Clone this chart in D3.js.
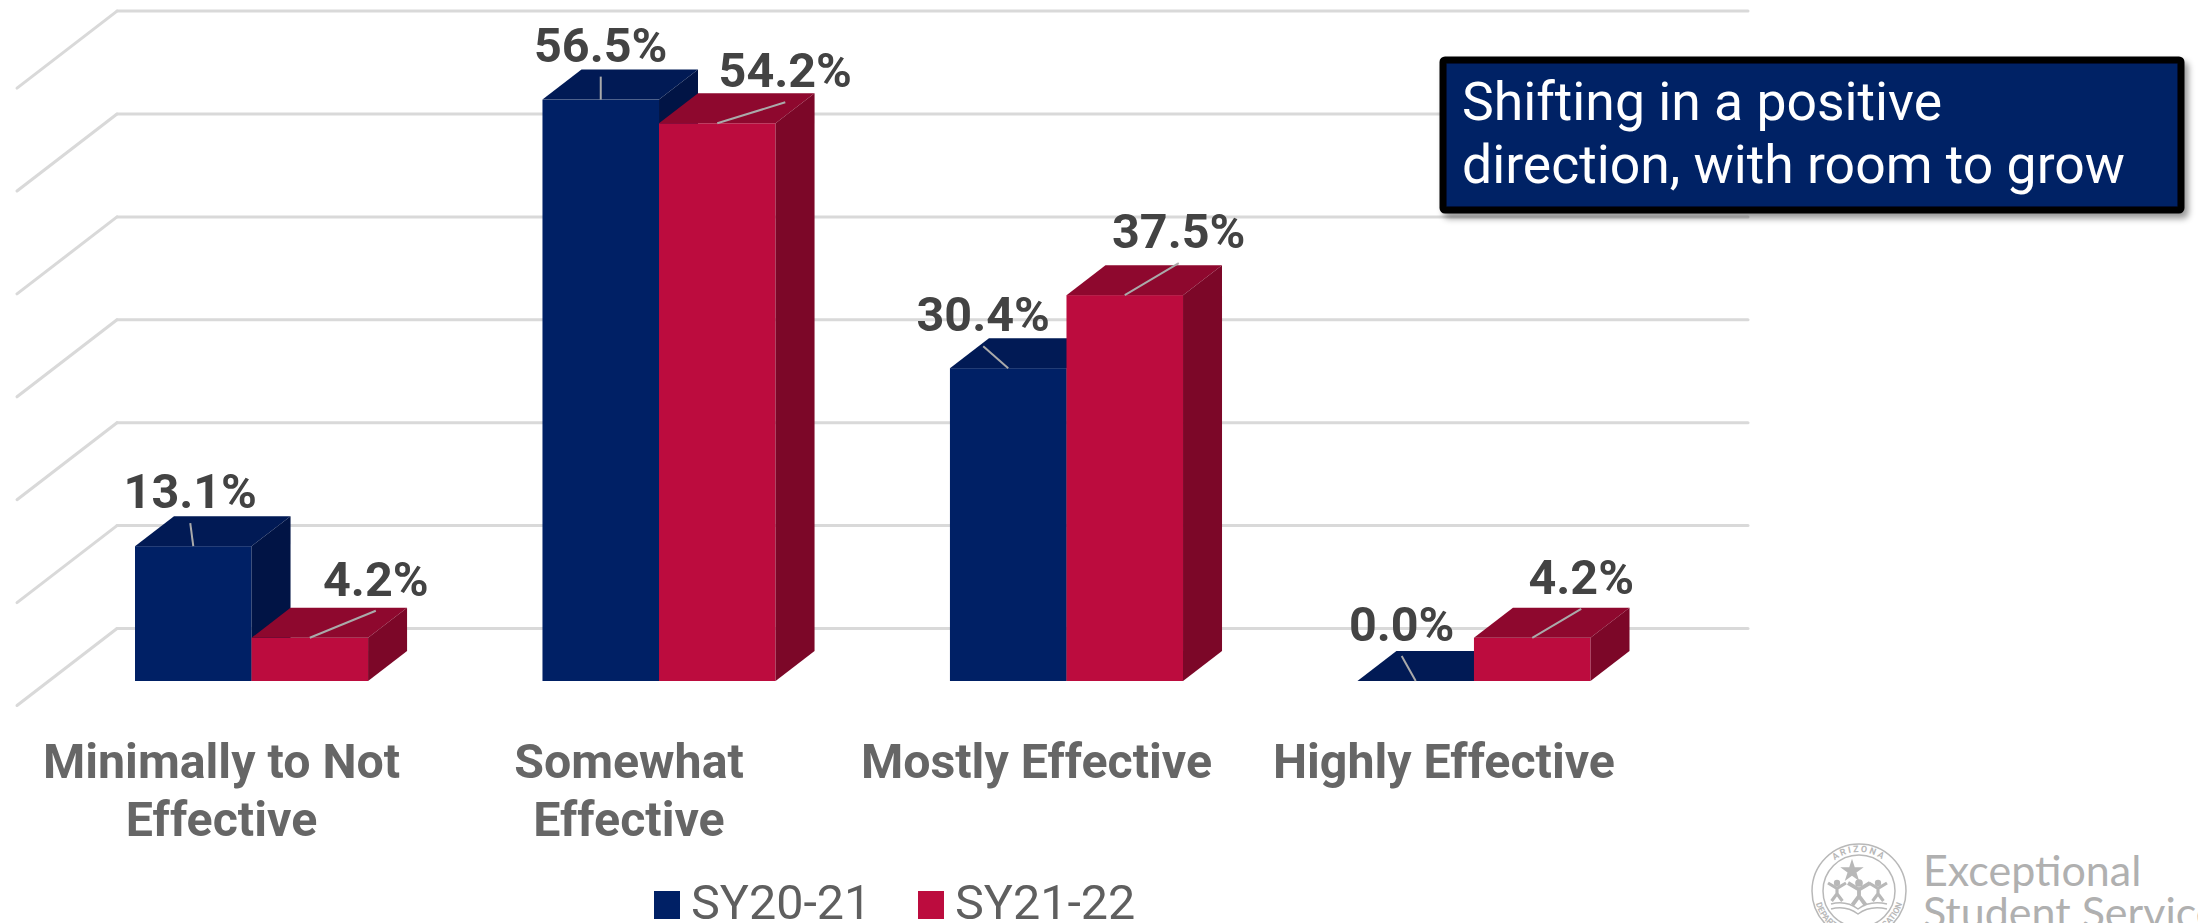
<!DOCTYPE html>
<html>
  <head>
    <meta charset="utf-8">
    <title>Effectiveness ratings</title>
    <script src="https://cdn.jsdelivr.net/npm/d3@7"></script>
    <style>
      html, body { margin: 0; background: #fff; overflow: hidden; }
      svg { display: block; font-family: Roboto, sans-serif; }
      .grid line { stroke: #d9d9d9; stroke-width: 3; stroke-linecap: round; }
      .grid path { display: none; }
      .catAxis path, .catAxis line { display: none; }
      .catAxis text { font: 700 48.3px Roboto, sans-serif; fill: #666; }
      .dataLabel { font: 700 48.5px Roboto, sans-serif; fill: #434343; text-anchor: middle; }
      .leader { stroke: #aaa; stroke-width: 2; }
      .legendText { font: 400 48.5px Roboto, sans-serif; fill: #5f5f5f; }
      .logo { fill: none; stroke: #b8b8b8; }
    </style>
  </head>

  <body>
    <svg id="chart" width="2198" height="923">
      <defs>
        <filter id="shadow" x="-5%" y="-10%" width="110%" height="125%">
          <feDropShadow dx="4" dy="5" stdDeviation="3" flood-color="#000" flood-opacity="0.4"></feDropShadow>
        </filter>
        <path id="arcTop" d="M1820,891 A39,39 0 0 1 1898,891"></path>
        <path id="arcBottom" d="M1814,891 A45,45 0 0 0 1904,891"></path>
      </defs>
    </svg>

    <script>
      // data
      categories = ["Minimally to Not Effective", "Somewhat Effective", "Mostly Effective", "Highly Effective"];
      categoryLines = [["Minimally to Not", "Effective"], ["Somewhat", "Effective"], ["Mostly Effective"], ["Highly Effective"]];
      seriesNames = ["SY20-21", "SY21-22"];
      sy2021 = [13.1, 56.5, 30.4, 0.0];
      sy2122 = [4.2, 54.2, 37.5, 4.2];
      gridTicks = [0, 10, 20, 30, 40, 50, 60];
      calloutLines = ["Shifting in a positive", "direction, with room to grow"];

      // colours: front, top, side
      seriesColours = [
        ["#002065", "#011a55", "#011445"],
        ["#bc0c3e", "#8e082e", "#7c0728"]
      ];

      // hand placed labels, offset from the middle of each bar's front top edge
      labelDx = [[-3, 0, -25, -14], [66, 68, 54, 49]];
      labelDy = [[-38, -38, -37, -40], [-42, -36, -47, -44]];

      // 3d look
      depthX = 39;
      depthY = 30;
      wallX = 100;
      wallY = 77;
      gridShift = 53;

      svg = d3.select("#chart");

      // scales
      x0 = d3.scaleBand().domain(categories).range([135, 1590.5]).paddingInner(0.428);
      x1 = d3.scaleBand().domain(seriesNames).range([0, x0.bandwidth()]);
      y = d3.scaleLinear().domain([0, 60]).range([681, 63.6]);

      // gridlines with their slanted floor part
      grid = svg.append("g")
        .attr("class", "grid")
        .attr("transform", "translate(117, " + (-gridShift) + ")")
        .call(d3.axisLeft(y).tickValues(gridTicks).tickSize(-(1748 - 117)).tickFormat(""));
      grid.selectAll(".tick").append("line")
        .attr("class", "slant")
        .attr("x1", 0)
        .attr("y1", 0)
        .attr("x2", -wallX)
        .attr("y2", wallY);

      // bars
      bars = [];
      seriesNames.forEach(function(name, s) {
        values = s === 0 ? sy2021 : sy2122;
        values.forEach(function(v, i) {
          bars.push({ s: s, i: i, name: name, category: categories[i], value: v });
        });
      });

      barGroups = svg.append("g").selectAll("g")
        .data(bars)
        .enter().append("g");

      barGroups.append("rect")
        .attr("x", function(d) { return x0(d.category) + x1(d.name); })
        .attr("y", function(d) { return y(d.value); })
        .attr("width", x1.bandwidth())
        .attr("height", function(d) { return y(0) - y(d.value); })
        .attr("fill", function(d) { return seriesColours[d.s][0]; });

      barGroups.append("path")
        .attr("fill", function(d) { return seriesColours[d.s][1]; })
        .attr("d", function(d) {
          left = x0(d.category) + x1(d.name);
          right = left + x1.bandwidth();
          top_ = y(d.value);
          return "M" + left + "," + top_ + "L" + (left + depthX) + "," + (top_ - depthY) +
            "L" + (right + depthX) + "," + (top_ - depthY) + "L" + right + "," + top_ + "Z";
        });

      barGroups.append("path")
        .attr("fill", function(d) { return seriesColours[d.s][2]; })
        .attr("d", function(d) {
          right = x0(d.category) + x1(d.name) + x1.bandwidth();
          return "M" + right + "," + y(d.value) + "L" + (right + depthX) + "," + (y(d.value) - depthY) +
            "L" + (right + depthX) + "," + (y(0) - depthY) + "L" + right + "," + y(0) + "Z";
        });

      // leader lines and value labels
      function barMiddle(d) {
        return x0(d.category) + x1(d.name) + x1.bandwidth() / 2;
      }

      svg.append("g").selectAll("line")
        .data(bars)
        .enter().append("line")
        .attr("class", "leader")
        .attr("x1", barMiddle)
        .attr("y1", function(d) { return y(d.value); })
        .attr("x2", function(d) { return barMiddle(d) + labelDx[d.s][d.i]; })
        .attr("y2", function(d) { return y(d.value) + labelDy[d.s][d.i] + 15; });

      svg.append("g").selectAll("text")
        .data(bars)
        .enter().append("text")
        .attr("class", "dataLabel")
        .attr("x", function(d) { return barMiddle(d) + labelDx[d.s][d.i]; })
        .attr("y", function(d) { return y(d.value) + labelDy[d.s][d.i]; })
        .text(function(d) { return d.value.toFixed(1) + "%"; });

      // category axis, moved left of the band centre like the original
      catAxis = svg.append("g")
        .attr("class", "catAxis")
        .attr("transform", "translate(-30, 778)")
        .call(d3.axisBottom(x0).tickSize(0).tickPadding(0).tickFormat(""));
      catAxis.selectAll(".tick text")
        .attr("y", 0)
        .attr("dy", 0)
        .each(function(d, i) {
          d3.select(this).selectAll("tspan")
            .data(categoryLines[i])
            .enter().append("tspan")
            .attr("x", 0)
            .attr("y", function(l, j) { return j * 58; })
            .text(function(l) { return l; });
        });

      // legend
      legendX = d3.scaleOrdinal().domain(seriesNames).range([654, 918]);
      legend = svg.append("g").selectAll("g")
        .data(seriesNames)
        .enter().append("g");
      legend.append("rect")
        .attr("x", function(d) { return legendX(d); })
        .attr("y", 891)
        .attr("width", 26)
        .attr("height", 28)
        .attr("fill", function(d, i) { return seriesColours[i][0]; });
      legend.append("text")
        .attr("class", "legendText")
        .attr("x", function(d) { return legendX(d) + 37; })
        .attr("y", 919)
        .text(function(d) { return d; });

      // callout box
      svg.append("rect")
        .attr("x", 1443)
        .attr("y", 60)
        .attr("width", 738)
        .attr("height", 150)
        .attr("rx", 2)
        .attr("fill", "#002065")
        .attr("stroke", "#000")
        .attr("stroke-width", 7)
        .attr("filter", "url(#shadow)");
      svg.append("g").selectAll("text")
        .data(calloutLines)
        .enter().append("text")
        .attr("x", 1462)
        .attr("y", function(d, i) { return 120 + i * 63; })
        .attr("fill", "#fff")
        .style("font", "400 53.5px Roboto, sans-serif")
        .text(function(d) { return d; });

      // logo
      logo = svg.append("g");
      logo.append("circle").attr("class", "logo").attr("cx", 1859).attr("cy", 891).attr("r", 47).attr("stroke-width", 1.5);
      logo.append("circle").attr("class", "logo").attr("cx", 1859).attr("cy", 891).attr("r", 36).attr("stroke-width", 1.5);
      logo.append("text")
        .style("font", "700 9px Roboto, sans-serif")
        .attr("fill", "#b8b8b8")
        .attr("letter-spacing", 2)
        .append("textPath")
        .attr("href", "#arcTop")
        .attr("startOffset", "50%")
        .attr("text-anchor", "middle")
        .text("ARIZONA");
      logo.append("text")
        .style("font", "700 8.5px Roboto, sans-serif")
        .attr("fill", "#b8b8b8")
        .append("textPath")
        .attr("href", "#arcBottom")
        .attr("startOffset", "50%")
        .attr("text-anchor", "middle")
        .text("DEPARTMENT OF EDUCATION");
      logo.append("path")
        .attr("d", d3.symbol(d3.symbolStar, 170)())
        .attr("transform", "translate(1852, 871)")
        .attr("fill", "#b8b8b8");
      [[1837, 883, 0.9], [1859, 883, 1.1], [1878, 883, 0.9]].forEach(function(p) {
        person = logo.append("g").attr("transform", "translate(" + p[0] + "," + p[1] + ") scale(" + p[2] + ")");
        person.append("circle").attr("r", 3.5).attr("fill", "#b8b8b8");
        person.append("path")
          .attr("d", "M-10,0L0,6L10,0M0,5L0,13M0,12L-6,20M0,12L6,20")
          .attr("fill", "none")
          .attr("stroke", "#b8b8b8")
          .attr("stroke-width", 3.5);
      });
      logo.append("path")
        .attr("class", "logo")
        .attr("stroke-width", 1.5)
        .attr("d", "M1831,904Q1846,900 1858,909Q1870,900 1887,904M1831,909Q1846,905 1858,914Q1870,905 1887,909");

      svg.append("g").selectAll("text")
        .data(["Exceptional", "Student Services"])
        .enter().append("text")
        .attr("x", 1923)
        .attr("y", function(d, i) { return 886 + i * 42; })
        .attr("fill", "#b0b0b0")
        .style("font", "400 43px Lato, sans-serif")
        .text(function(d) { return d; });
    </script>
  </body>
</html>
